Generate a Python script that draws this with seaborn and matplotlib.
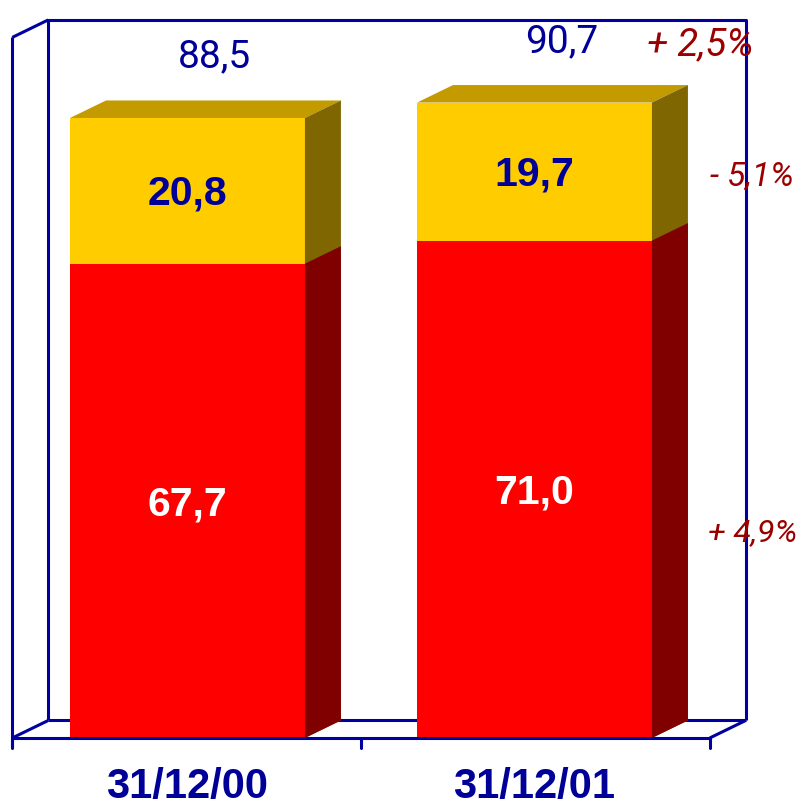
#!/usr/bin/python3
# stacked 3D-looking bar chart, 31/12/00 vs 31/12/01
import seaborn as sns
import matplotlib.pyplot as plt
from matplotlib.patches import Polygon
from matplotlib import font_manager

# data
dates = ["31/12/00", "31/12/01"]
bottom_vals = [67.7, 71.0]   # red segment
top_vals = [20.8, 19.7]      # yellow segment
totals = [88.5, 90.7]
changes = ["+ 2,5%", "- 5,1%", "+ 4,9%"]   # total, yellow, red

yellow = "#FFCC00"
yellow_top = "#C39B00"
yellow_side = "#806600"
red = "#FF0000"
red_side = "#800000"
blue = "#000099"
dark_red = "#9A0000"

names = {f.name for f in font_manager.fontManager.ttflist}
narrow = "Liberation Sans Narrow" if "Liberation Sans Narrow" in names else "Roboto"

sns.set_style("white")
plt.rcParams["font.family"] = ["Liberation Sans", "DejaVu Sans"]

fig = plt.figure(figsize=(8.02, 8.07), dpi=100)
ax = fig.add_axes([0, 0, 1, 1])

bw = 0.677
sns.barplot(x=dates, y=totals, color=yellow, saturation=1, width=bw,
            linewidth=0, ax=ax, zorder=3)
n_yel = len(ax.patches)
sns.barplot(x=dates, y=bottom_vals, color=red, saturation=1, width=bw,
            linewidth=0, ax=ax, zorder=4)
yel_bars = ax.patches[:n_yel]
red_bars = ax.patches[n_yel:]

# depth of the 3D effect in data units
dx, dy = 0.1037, 2.5

for p in yel_bars:
    x0, x1, h = p.get_x(), p.get_x() + p.get_width(), p.get_height()
    ax.add_patch(Polygon([(x0, h), (x1, h), (x1 + dx, h + dy), (x0 + dx, h + dy)],
                         closed=True, color=yellow_top, lw=0, zorder=3))
    ax.add_patch(Polygon([(x1, 0), (x1 + dx, dy), (x1 + dx, h + dy), (x1, h)],
                         closed=True, color=yellow_side, lw=0, zorder=3))
for p in red_bars:
    x1, h = p.get_x() + p.get_width(), p.get_height()
    ax.add_patch(Polygon([(x1, 0), (x1 + dx, dy), (x1 + dx, h + dy), (x1, h)],
                         closed=True, color=red_side, lw=0, zorder=4))

# frame of the 3D box
lc, lw = "#0000A0", 2.2
xl, xr, ytop = -0.505, 1.505, 100
back = dict(color=lc, lw=lw, zorder=1, solid_capstyle="butt")
ax.plot([xl + dx, xl + dx, xr + dx, xr + dx], [dy, ytop + dy, ytop + dy, dy], **back)
ax.plot([xl + dx, xr + dx], [dy, dy], **back)
ax.plot([xl, xl + dx], [ytop, ytop + dy], **back)
ax.plot([xl, xl], [-1.4, ytop], **back)
ax.plot([xl, xl + dx], [0, dy], **back)
ax.plot([xr, xr + dx], [0, dy], **back)
ax.plot([xl, xr], [0, 0], color=lc, lw=lw, zorder=6)
for t in [xl, 0.5, xr]:
    ax.plot([t, t], [0, -1.4], color=lc, lw=lw, zorder=6)

# labels
for i, (b, t, tot) in enumerate(zip(bottom_vals, top_vals, totals)):
    ax.text(i, b / 2 - 0.5, f"{b:.1f}".replace(".", ","), ha="center", va="center",
            color="white", fontsize=29.5, fontweight="bold", zorder=7)
    ax.text(i, b + t / 2 - 0.4, f"{t:.1f}".replace(".", ","), ha="center", va="center",
            color=blue, fontsize=29.5, fontweight="bold", zorder=7)
    ax.text(i + 0.078, tot + 8.7, f"{tot:.1f}".replace(".", ","), ha="center",
            va="center", color=blue, fontsize=28, family=[narrow, "DejaVu Sans"],
            zorder=7)
    ax.text(i, -7.0, dates[i], ha="center", va="center", color=blue,
            fontsize=30, fontweight="bold", zorder=7)

# percentage changes beside the second bar
pct_y = [totals[1] + 8.3, bottom_vals[1] + top_vals[1] / 2 - 0.8, bottom_vals[1] / 2 - 6.2]
pct_x = [1.325, 1.507, 1.500]
pct_size = [27.5, 24, 23]
for lab, px, py, fs in zip(changes, pct_x, pct_y, pct_size):
    ax.text(px, py, lab, ha="left", va="center", color=dark_red, fontsize=fs,
            style="italic", family=[narrow, "DejaVu Sans"], zorder=8)

ax.set_xlim(-0.5403, 1.7709)
ax.set_ylim(-9.85, 105.34)
ax.axis("off")

plt.savefig("out.png", dpi=100)
